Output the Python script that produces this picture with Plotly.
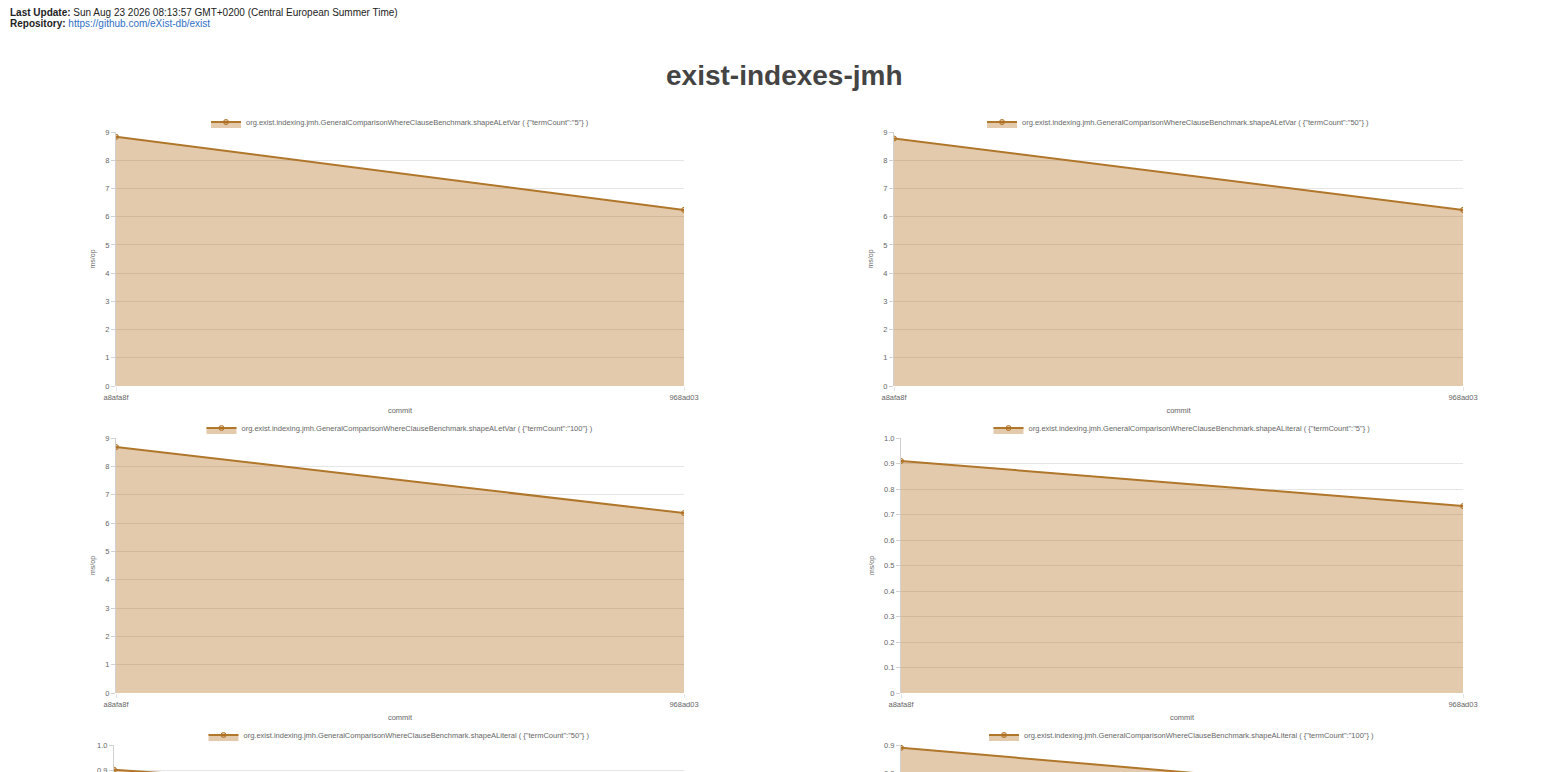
import plotly.graph_objects as go

# datos de la pagina de benchmarks
commits = ['a8afa8f', '968ad03']

nombres = [
    'org.exist.indexing.jmh.GeneralComparisonWhereClauseBenchmark.shapeALetVar ( {"termCount":"5"} )',
    'org.exist.indexing.jmh.GeneralComparisonWhereClauseBenchmark.shapeALetVar ( {"termCount":"50"} )',
    'org.exist.indexing.jmh.GeneralComparisonWhereClauseBenchmark.shapeALetVar ( {"termCount":"100"} )',
    'org.exist.indexing.jmh.GeneralComparisonWhereClauseBenchmark.shapeALiteral ( {"termCount":"5"} )',
    'org.exist.indexing.jmh.GeneralComparisonWhereClauseBenchmark.shapeALiteral ( {"termCount":"50"} )',
    'org.exist.indexing.jmh.GeneralComparisonWhereClauseBenchmark.shapeALiteral ( {"termCount":"100"} )',
]

let_var_5 = [8.83, 6.24]
let_var_50 = [8.77, 6.24]
let_var_100 = [8.68, 6.35]
literal_5 = [0.91, 0.733]
literal_50 = [0.903, 0.75]
literal_100 = [0.89, 0.72]

ticks_ms = [0, 1, 2, 3, 4, 5, 6, 7, 8, 9]
ticks_lit = [0, 0.1, 0.2, 0.3, 0.4, 0.5, 0.6, 0.7, 0.8, 0.9, 1.0]
ticks_lit_text = ['0', '0.1', '0.2', '0.3', '0.4', '0.5', '0.6', '0.7', '0.8', '0.9', '1.0']

series = [let_var_5, let_var_50, let_var_100, literal_5, literal_50, literal_100]
rangos = [[0, 9], [0, 9], [0, 9], [0, 1.0], [0, 1.0], [0, 0.9]]

# tamaño de la figura (la pagina tiene 8px de margen en el body)
W = 1552
H = 1040
OFF = 8


def fx(x):
    return (x - OFF) / W


def fy(y):
    return 1 - (y - OFF) / H


# posiciones en pixeles de cada grafico: (x0, x1, y0, y1, legend_y)
cajas = [
    (116, 684, 132, 386, 122),
    (894, 1463, 132, 386, 122),
    (116, 684, 438, 693, 428),
    (901, 1463, 438, 693, 428),
    (114, 684, 745, 1000, 735),
    (901, 1463, 745, 1000, 735),
]

color_linea = '#b0762a'
color_relleno = 'rgba(178,104,20,0.35)'
gris = '#666666'
fuente = 'Liberation Sans, Arial, sans-serif'

fig = go.Figure()
layout = {}

for i, (nombre, valores) in enumerate(zip(nombres, series)):
    n = i + 1
    sfx = '' if n == 1 else str(n)
    x0, x1, y0, y1, ly = cajas[i]
    leg = 'legend' + sfx

    fig.add_trace(go.Scatter(
        x=commits,
        y=valores,
        name=nombre,
        mode='lines+markers',
        fill='tozeroy',
        fillcolor=color_relleno,
        line=dict(color=color_linea, width=2),
        marker=dict(size=5, color=color_relleno, line=dict(color=color_linea, width=1)),
        xaxis='x' + sfx,
        yaxis='y' + sfx,
        legend=leg,
        hoverinfo='x+y',
    ))

    if i < 3:
        tv, tt = ticks_ms, [str(t) for t in ticks_ms]
    else:
        tope = rangos[i][1]
        tv = [t for t in ticks_lit if t <= tope + 1e-9]
        tt = ticks_lit_text[:len(tv)]

    layout['xaxis' + sfx] = dict(
        domain=[fx(x0), fx(x1)],
        anchor='y' + sfx,
        type='category',
        range=[0, 1],
        automargin=False,
        showgrid=True,
        gridcolor='rgba(0,0,0,0.1)',
        showline=False,
        zeroline=False,
        ticks='outside',
        ticklen=4,
        tickcolor='rgba(0,0,0,0.1)',
        tickfont=dict(size=7.5, color=gris, family=fuente),
        title=dict(text='commit', font=dict(size=7.5, color=gris, family=fuente), standoff=6),
        fixedrange=True,
    )
    layout['yaxis' + sfx] = dict(
        domain=[fy(y1), fy(y0)],
        anchor='x' + sfx,
        range=rangos[i],
        automargin=False,
        tickvals=tv,
        ticktext=tt,
        showgrid=True,
        gridcolor='rgba(0,0,0,0.1)',
        showline=True,
        linecolor='rgba(0,0,0,0.18)',
        linewidth=1,
        zeroline=False,
        ticks='outside',
        ticklen=4,
        tickcolor='rgba(0,0,0,0.18)',
        tickfont=dict(size=7.5, color=gris, family=fuente),
        title=dict(text='ms/op', font=dict(size=7, color=gris, family=fuente), standoff=8),
        fixedrange=True,
    )
    layout[leg] = dict(
        x=fx((x0 + x1) / 2),
        y=fy(ly),
        xanchor='center',
        yanchor='middle',
        orientation='h',
        font=dict(size=7.5, color=gris, family=fuente),
        bgcolor='rgba(0,0,0,0)',
        itemwidth=30,
    )

fig.update_layout(**layout)

fig.update_layout(
    width=W,
    height=H,
    margin=dict(l=0, r=0, t=0, b=0, autoexpand=False),
    paper_bgcolor='white',
    plot_bgcolor='white',
    showlegend=True,
    font=dict(family=fuente, color=gris),
    annotations=[
        dict(
            text='<b>Last Update:</b> Sun Aug 23 2026 08:13:57 GMT+0200 (Central European Summer Time)',
            x=0, y=1, xref='paper', yref='paper', yshift=3,
            xanchor='left', yanchor='top', showarrow=False,
            font=dict(size=10, color='#222222', family=fuente),
        ),
        dict(
            text='<b>Repository:</b> <span style="color:#2f6fc4">https://github.com/eXist-db/exist</span>',
            x=0, y=fy(24), xref='paper', yref='paper',
            xanchor='left', yanchor='middle', showarrow=False,
            font=dict(size=10, color='#222222', family=fuente),
        ),
        dict(
            text='<b>exist-indexes-jmh</b>',
            x=fx(784), y=fy(76), xref='paper', yref='paper',
            xanchor='center', yanchor='middle', showarrow=False,
            font=dict(size=28, color='#444444', family=fuente),
        ),
    ],
)

fig.write_html('out.html')
